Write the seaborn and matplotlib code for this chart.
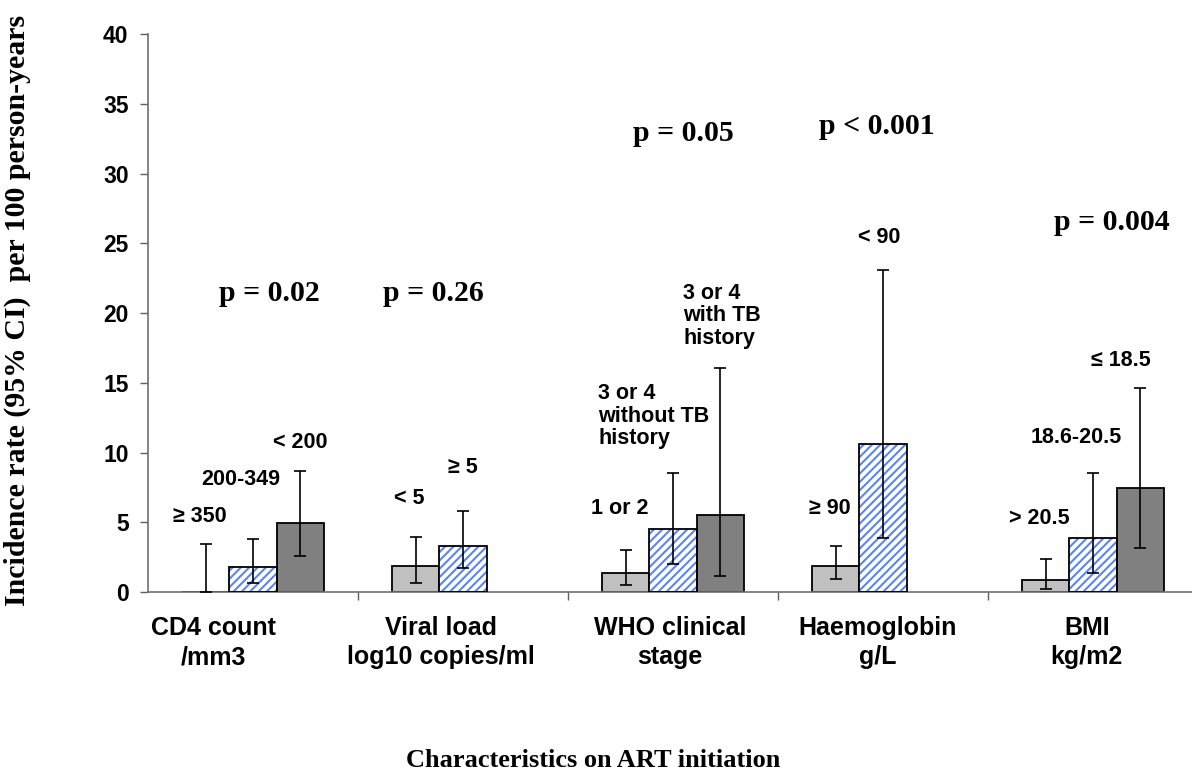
import numpy as np
import pandas as pd
import matplotlib
matplotlib.use("Agg")
import matplotlib.pyplot as plt
from matplotlib.patches import Rectangle
import seaborn as sns

sns.set_theme(style="white")
plt.rcParams["font.family"] = ["Liberation Sans", "DejaVu Sans"]
plt.rcParams["hatch.linewidth"] = 1.5
plt.rcParams["text.color"] = "black"
plt.rcParams["ytick.labelcolor"] = "black"

# characteristic groups on the x axis
groups = ["CD4 count\n/mm3", "Viral load\nlog10 copies/ml", "WHO clinical\nstage",
          "Haemoglobin\ng/L", "BMI\nkg/m2"]

# incidence rate per 100 person-years, 3 strata per group (nan = no stratum)
rate_low = [0.0, 1.84, 1.36, 1.89, 0.89]
rate_mid = [1.77, 3.32, 4.49, 10.6, 3.90]
rate_high = [4.97, np.nan, 5.52, np.nan, 7.43]

# 95% CI
ci_lo_low = [0.0, 0.67, 0.50, 0.96, 0.24]
ci_hi_low = [3.44, 3.96, 3.00, 3.28, 2.39]
ci_lo_mid = [0.67, 1.72, 2.03, 3.85, 1.39]
ci_hi_mid = [3.80, 5.78, 8.55, 23.05, 8.55]
ci_lo_high = [2.58, np.nan, 1.15, np.nan, 3.18]
ci_hi_high = [8.67, np.nan, 16.08, np.nan, 14.62]

# stratum labels
lab_low = ["\u2265 350", "< 5", "1 or 2", "\u2265 90", "> 20.5"]
lab_mid = ["200-349", "\u2265 5", "3 or 4\nwithout TB\nhistory", "< 90", "18.6-20.5"]
lab_high = ["< 200", "", "3 or 4\nwith TB\nhistory", "", "\u2264 18.5"]

p_values = ["p = 0.02", "p = 0.26", "p = 0.05", "p < 0.001", "p = 0.004"]

# label placement (data units)
lab_y_low = [5.4, 6.7, 6.0, 6.0, 5.3]
lab_y_mid = [8.1, 8.9, 12.6, 25.4, 11.1]
lab_y_high = [10.7, 0, 19.8, 0, 16.6]
lab_dx_mid = [-0.06, 0.0, -0.09, -0.02, -0.08]
lab_dx_high = [0.0, 0.0, 0.01, 0.0, -0.09]
p_y = [21.4, 21.4, 32.9, 33.4, 26.5]
p_dx = [0.08, -0.14, 0.05, -0.03, 0.09]
cat_dx = [-0.19, -0.105, -0.015, -0.024, -0.03]

rates = [rate_low, rate_mid, rate_high]
ci_lo = [ci_lo_low, ci_lo_mid, ci_lo_high]
ci_hi = [ci_hi_low, ci_hi_mid, ci_hi_high]
labels = [lab_low, lab_mid, lab_high]
lab_y = [lab_y_low, lab_y_mid, lab_y_high]
lab_dx = [[-0.03] * 5, lab_dx_mid, lab_dx_high]

rows = []
for lev in range(3):
    for g in range(len(groups)):
        rows.append({"group": groups[g], "level": lev, "rate": rates[lev][g]})
df = pd.DataFrame(rows).dropna()

fig = plt.figure(figsize=(11.92, 7.81), dpi=100)
ax = fig.add_axes([148 / 1192, 1 - 592 / 781, 1050 / 1192, 558 / 781])

sns.barplot(data=df, x="group", y="rate", hue="level", order=groups,
            hue_order=[0, 1, 2], palette={0: "#c0c0c0", 1: "white", 2: "#808080"},
            width=0.672, edgecolor="black", linewidth=1.3, saturation=1,
            errorbar=None, legend=False, ax=ax)

serif = ["Liberation Serif", "DejaVu Serif"]

bar_containers = list(ax.containers)
for lev, cont in enumerate(bar_containers):
    xs, ys, lo, hi = [], [], [], []
    for bar in cont:
        xc = bar.get_x() + bar.get_width() / 2
        g = int(round(xc))
        xs.append(xc)
        ys.append(rates[lev][g])
        lo.append(rates[lev][g] - ci_lo[lev][g])
        hi.append(ci_hi[lev][g] - rates[lev][g])
        if lev == 1:
            bar.set_hatch("////")
            bar.set_edgecolor("#5b85f0")
            bar.set_linewidth(0)
            ax.add_patch(Rectangle(bar.get_xy(), bar.get_width(), bar.get_height(),
                                   fill=False, edgecolor="black", linewidth=1.3, zorder=3))
        if labels[lev][g]:
            ax.text(xc + lab_dx[lev][g], lab_y[lev][g], labels[lev][g], ha="center",
                    va="center", multialignment="left", fontsize=15.5, fontweight="bold",
                    linespacing=1.1, color="black")
    ax.errorbar(xs, ys, yerr=[lo, hi], fmt="none", ecolor="black",
                elinewidth=1.2, capsize=4, capthick=1.2, zorder=4)

for g in range(len(groups)):
    ax.text(g + p_dx[g], p_y[g], p_values[g], ha="center", va="center",
            fontsize=21.5, fontweight="bold", family=serif)
    ax.annotate(groups[g], xy=(g + cat_dx[g], 0), xycoords=("data", "axes fraction"),
                xytext=(0, -17), textcoords="offset points", ha="center", va="top",
                fontsize=18, fontweight="bold", linespacing=1.3)

ax.set_xlim(-0.5, 4.5)
ax.set_ylim(0, 40)
ax.set_yticks(range(0, 41, 5))
ax.set_xticks(range(len(groups)))
ax.set_xticklabels([])
ax.set_xticks([0.5, 1.5, 2.5, 3.5], minor=True)
ax.tick_params(axis="x", which="major", length=0)
ax.tick_params(axis="x", which="minor", bottom=True, length=6, width=1,
               color="#606060", direction="out")
ax.tick_params(axis="y", length=6, width=1, color="#606060", direction="out",
               left=True, labelsize=16.5, pad=8)
for t in ax.get_yticklabels():
    t.set_fontweight("bold")
ax.set_xlabel("")
ax.set_ylabel("")
for s in ["top", "right"]:
    ax.spines[s].set_visible(False)
for s in ["left", "bottom"]:
    ax.spines[s].set_color("#707070")
    ax.spines[s].set_linewidth(1.2)

fig.text(593 / 1192, 1 - 767 / 781, "Characteristics on ART initiation",
         ha="center", va="baseline", fontsize=19, fontweight="bold", family=serif)
fig.text(17 / 1192, 1 - 310 / 781, "Incidence rate (95% CI)  per 100 person-years",
         ha="center", va="center", rotation=90, fontsize=21.5, fontweight="bold",
         family=serif)

fig.savefig("out.png", dpi=100)
